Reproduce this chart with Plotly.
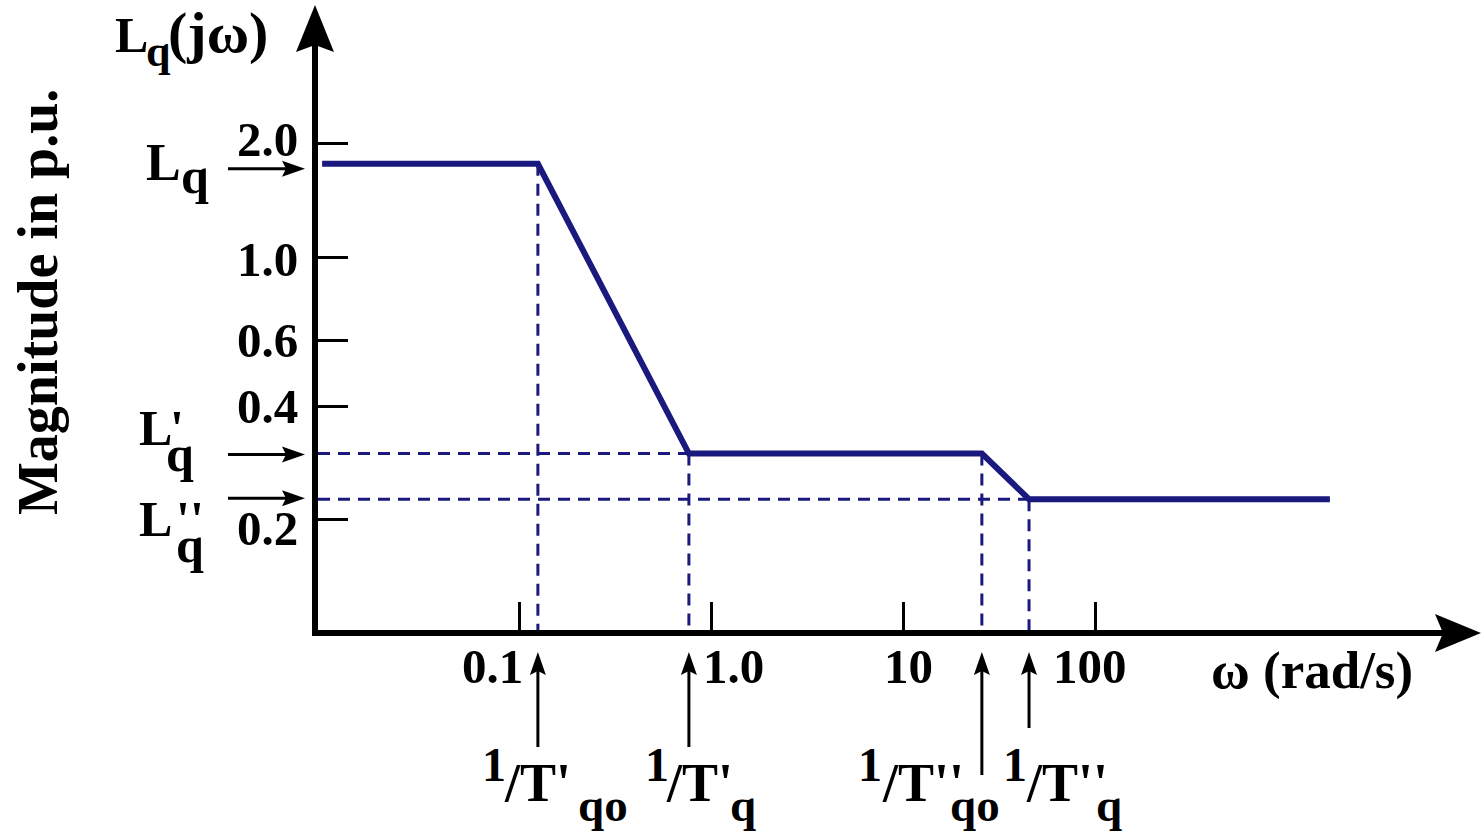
import math
import plotly.graph_objects as go

# ---------------- data ----------------
corner_freqs = [0.124, 0.76, 25.6, 45.1]      # 1/T'qo, 1/T'q, 1/T''qo, 1/T''q  (rad/s)
freq_span = [0.0093, 1670]                    # first and last plotted frequency (rad/s)
levels = [1.77, 0.30, 0.227]                  # Lq, L'q, L''q  (p.u.)
x_tick_vals = [0.1, 1.0, 10, 100]
x_tick_text = ["0.1", "1.0", "10", "100"]
y_tick_vals = [2.0, 1.0, 0.6, 0.4, 0.2]
y_tick_text = ["2.0", "1.0", "0.6", "0.4", "0.2"]

# ---------------- geometry ----------------
W, H = 1481, 836
ML, MR, MT, MB = 318, 31, 45, 206
PW, PH = W - ML - MR, H - MT - MB
XR = [-2.053, 3.849]     # log10 range of the omega axis
YR = [-0.992, 0.5638]    # log10 range of the magnitude axis
x_min, y_min = 10 ** XR[0], 10 ** YR[0]

NAVY = "#1a1a7e"
FONT = "Liberation Serif"


def xp(px):
    return (px - ML) / PW


def yp(py):
    return (H - MB - py) / PH


def wx(w):
    return ML + (math.log10(w) - XR[0]) / (XR[1] - XR[0]) * PW


def ly(v):
    return H - MB - (math.log10(v) - YR[0]) / (YR[1] - YR[0]) * PH


fig = go.Figure()

# dashed construction lines
c0, c1, c2, c3 = corner_freqs
L0, L1, L2 = levels
dash_segments = [
    ([x_min, c1], [L1, L1]),
    ([x_min, c3], [L2, L2]),
    ([c0, c0], [L0, y_min]),
    ([c1, c1], [L1, y_min]),
    ([c2, c2], [L1, y_min]),
    ([c3, c3], [L2, y_min]),
]
for xs, ys in dash_segments:
    fig.add_trace(go.Scatter(x=xs, y=ys, mode="lines",
                             line=dict(color=NAVY, width=3, dash="12px,8px"),
                             hoverinfo="skip", showlegend=False))

# asymptotic magnitude curve
curve_x = [freq_span[0], c0, c1, c2, c3, freq_span[1]]
curve_y = [L0, L0, L1, L1, L2, L2]
fig.add_trace(go.Scatter(x=curve_x, y=curve_y, mode="lines",
                         line=dict(color=NAVY, width=6),
                         hoverinfo="skip", showlegend=False))

shapes = []


def path(points):
    s = "M " + " L ".join(f"{xp(a):.5f},{yp(b):.5f}" for a, b in points) + " Z"
    return dict(type="path", xref="paper", yref="paper", path=s,
                fillcolor="black", line=dict(width=0), layer="above")


def line(x0, y0, x1, y1, w=3):
    return dict(type="line", xref="paper", yref="paper",
                x0=xp(x0), y0=yp(y0), x1=xp(x1), y1=yp(y1),
                line=dict(color="black", width=w), layer="above")


# big axis arrowheads
shapes.append(path([(315, 5), (334, 52), (315, 45), (296, 52)]))
shapes.append(line(315, 46, 315, 60, 6))
shapes.append(path([(1481, 633), (1435, 614), (1443, 633), (1435, 652)]))
shapes.append(line(1440, 633, 1452, 633, 6))

# small arrows pointing at the levels
arrow_dy = [5, 1, -1]
for v, d in zip(levels, arrow_dy):
    y = ly(v) + d
    shapes.append(line(228, y, 290, y))
    shapes.append(path([(305, y), (282, y - 8), (286, y), (282, y + 8)]))

# small arrows pointing at the corner frequencies
tails = [747, 747, 775, 728]
for c, t in zip(corner_freqs, tails):
    x = wx(c)
    shapes.append(line(x, t, x, 668))
    shapes.append(path([(x, 652), (x - 8, 675), (x, 671), (x + 8, 675)]))

ann = []


def txt(s, x, y, size=50, xanchor="left", yanchor="middle", angle=0, xref="paper", yref="paper",
        xshift=0, yshift=0):
    ann.append(dict(text=s, x=x, y=y, xref=xref, yref=yref, xanchor=xanchor, yanchor=yanchor,
                    showarrow=False, textangle=angle, xshift=xshift, yshift=yshift,
                    font=dict(family=FONT, size=size, color="black")))


def base(b, size):
    # middle of the text box for a given baseline (pixels)
    return yp(b - 0.3375 * size)


# y tick labels
y_shift = [4, -2, 0, 0, -9]
for v, t, s in zip(y_tick_vals, y_tick_text, y_shift):
    txt(f"<b>{t}</b>", xp(300), math.log10(v), 49, xanchor="right", yref="y", yshift=s)

# x tick labels
x_shift = [-27, 22, 5, -5]
for v, t, s in zip(x_tick_vals, x_tick_text, x_shift):
    txt(f"<b>{t}</b>", math.log10(v), yp(666), 49, xanchor="center", xref="x", xshift=s)

# axis titles
txt("<b>Magnitude in p.u.</b>", xp(38), yp(302), 56, xanchor="center", angle=-90)
txt("<b>ω (rad/s)</b>", xp(1312), yp(670), 53, xanchor="center")
txt("<b>L</b>", xp(113), base(52, 50), 50)
txt("<b>q</b>", xp(144), base(66, 44), 44)
txt("<b>(jω)</b>", xp(166), base(52, 58), 58)

# level labels
txt("<b>L</b>", xp(144), base(180, 52), 52)
txt("<b>q</b>", xp(179), base(193, 50), 50)
txt("<b>L</b>", xp(137), base(445, 50), 50)
txt("<b>'</b>", xp(168), base(445, 50), 50)
txt("<b>q</b>", xp(164), base(471, 50), 50)
txt("<b>L</b>", xp(137), base(536, 50), 50)
txt("<b>''</b>", xp(174), base(536, 50), 50)
txt("<b>q</b>", xp(174), base(562, 50), 50)

# corner frequency labels
corner_labels = [("/T'", "qo"), ("/T'", "q"), ("/T''", "qo"), ("/T''", "q")]
one_left = [480, 643, 856, 1001]
mid_left = [502, 664, 880, 1024]
sub_left = [576, 728, 948, 1094]
for (m, sub), a, b, c in zip(corner_labels, one_left, mid_left, sub_left):
    txt("<b>1</b>", xp(a), base(781, 48), 48)
    txt(f"<b>{m}</b>", xp(b), base(801, 54), 54)
    txt(f"<b>{sub}</b>", xp(c), base(821, 47), 47)

axis_common = dict(showgrid=False, zeroline=False, showline=True, linecolor="black",
                   linewidth=6, ticks="inside", tickcolor="black", tickwidth=3,
                   showticklabels=False, fixedrange=True, type="log")

fig.update_layout(
    width=W, height=H,
    margin=dict(l=ML, r=MR, t=MT, b=MB, pad=0),
    paper_bgcolor="white", plot_bgcolor="white",
    showlegend=False,
    xaxis=dict(range=XR, tickvals=x_tick_vals, ticklen=28, **axis_common),
    yaxis=dict(range=YR, tickvals=y_tick_vals, ticklen=30, **axis_common),
    shapes=shapes,
    annotations=ann,
)

fig.write_html("out.html", config={"displayModeBar": False},
               post_script="document.body.style.margin='0';document.body.style.overflow='hidden';")
